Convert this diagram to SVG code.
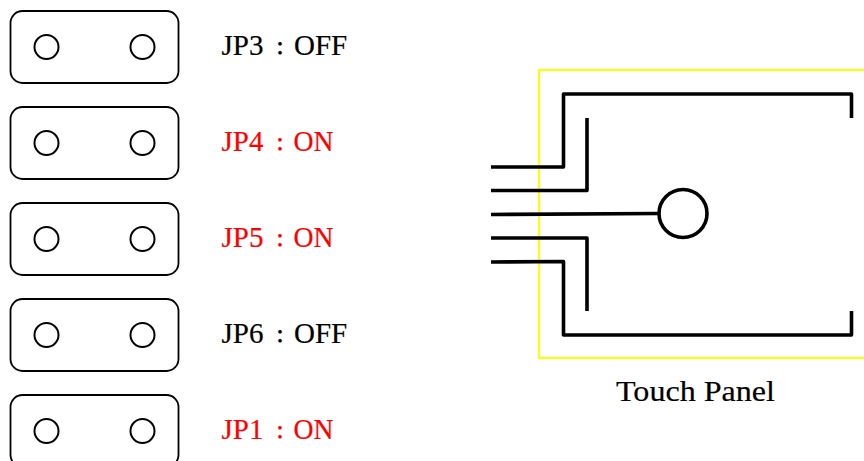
<svg xmlns="http://www.w3.org/2000/svg" width="864" height="461" viewBox="0 0 864 461">
<style>
.b{fill:#fff;stroke:#000;stroke-width:1.8}
.c{fill:none;stroke:#000;stroke-width:2}
.t{font-family:"Liberation Serif","Noto Sans CJK JP",serif;font-size:29px;fill:#000;stroke:#000;stroke-width:.2}
.r{fill:#f00;stroke:#f00}
.k{font-size:18px;font-weight:700}
.w{fill:none;stroke:#000;stroke-width:3.6;stroke-linejoin:round}
</style>
<rect width="864" height="461" fill="#fff"/>
<g id="jp3"><rect class="b" x="10.500" y="11" width="168" height="72" rx="12"/><circle class="c" cx="46.500" cy="47" r="12"/><circle class="c" cx="142.500" cy="47" r="12"/><text class="t" x="221.500" y="55">JP3<tspan class="k" x="271">：</tspan><tspan x="294">OFF</tspan></text></g>
<g id="jp4"><rect class="b" x="10.500" y="107" width="168" height="72" rx="12"/><circle class="c" cx="46.500" cy="143" r="12"/><circle class="c" cx="142.500" cy="143" r="12"/><text class="t r" x="221.500" y="151">JP4<tspan class="k" x="271">：</tspan><tspan x="293.500" textLength="40" lengthAdjust="spacingAndGlyphs">ON</tspan></text></g>
<g id="jp5"><rect class="b" x="10.500" y="203" width="168" height="72" rx="12"/><circle class="c" cx="46.500" cy="239" r="12"/><circle class="c" cx="142.500" cy="239" r="12"/><text class="t r" x="221.500" y="247">JP5<tspan class="k" x="271">：</tspan><tspan x="293.500" textLength="40" lengthAdjust="spacingAndGlyphs">ON</tspan></text></g>
<g id="jp6"><rect class="b" x="10.500" y="299" width="168" height="72" rx="12"/><circle class="c" cx="46.500" cy="335" r="12"/><circle class="c" cx="142.500" cy="335" r="12"/><text class="t" x="221.500" y="343">JP6<tspan class="k" x="271">：</tspan><tspan x="294">OFF</tspan></text></g>
<g id="jp1"><rect class="b" x="10.500" y="395" width="168" height="72" rx="12"/><circle class="c" cx="46.500" cy="431" r="12"/><circle class="c" cx="142.500" cy="431" r="12"/><text class="t r" x="221.500" y="439">JP1<tspan class="k" x="271">：</tspan><tspan x="293.500" textLength="40" lengthAdjust="spacingAndGlyphs">ON</tspan></text></g>
<g id="panel"><rect x="539" y="70" width="340" height="288" fill="none" stroke="#ff0" stroke-width="2"/><text class="t" x="616" y="401" textLength="159" lengthAdjust="spacingAndGlyphs">Touch Panel</text></g>
<g id="connectors">
<path class="w" d="M491 167H563.500V94H851.500V118"/>
<path class="w" d="M491 190.500H587V118"/>
<path class="w" d="M491 214.500L659 213.500"/>
<path class="w" d="M491 238H587V311"/>
<path class="w" d="M491 262L563.500 261.500V335H851.500V311"/>
</g>
<g id="sensor"><circle cx="683" cy="213.500" r="24" fill="#fff" stroke="#000" stroke-width="3.6"/></g>
</svg>
